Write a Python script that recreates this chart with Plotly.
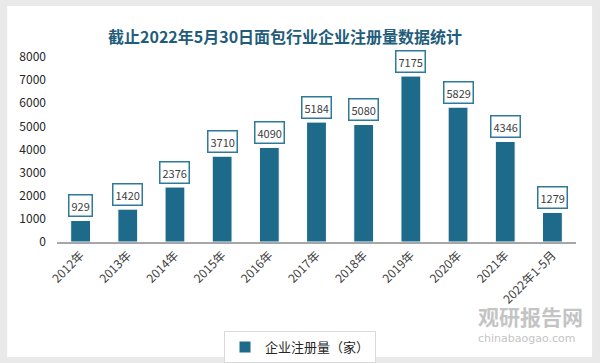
import plotly.graph_objects as go

categories = ["2012年", "2013年", "2014年", "2015年", "2016年", "2017年",
              "2018年", "2019年", "2020年", "2021年", "2022年1-5月"]
registrations = [929, 1420, 2376, 3710, 4090, 5184, 5080, 7175, 5829, 4346, 1279]
y_ticks = [0, 1000, 2000, 3000, 4000, 5000, 6000, 7000, 8000]

BAR = "#1d6a8a"
FONT = "Noto Sans CJK SC"

fig = go.Figure()
fig.add_trace(go.Bar(
    x=categories, y=registrations, name="企业注册量（家）",
    marker=dict(color=BAR, line=dict(color="#ffffff", width=1)),
    width=0.42,
))

for c, v in zip(categories, registrations):
    fig.add_annotation(
        x=c, y=v, text=str(v), showarrow=False, yshift=15,
        font=dict(family=FONT, size=11, color="#404040"),
        bgcolor="#ffffff", bordercolor="#2f7a9a", borderwidth=1.5, borderpad=2,
    )

# card background
fig.add_shape(type="rect", xref="paper", yref="paper",
              x0=-0.096, x1=1.031, y0=-0.622, y1=1.276,
              fillcolor="#ffffff", line=dict(width=0), layer="below")

fig.add_annotation(xref="paper", yref="paper", x=0.44, y=1.115,
                   text="<b>截止2022年5月30日面包行业企业注册量数据统计</b>",
                   showarrow=False, xanchor="center", yanchor="middle",
                   font=dict(family=FONT, size=16, color="#1f5d7a"))

# watermark
fig.add_annotation(xref="paper", yref="paper", x=0.913, y=-0.40,
                   text="<b>观研报告网</b>", showarrow=False,
                   xanchor="center", yanchor="middle",
                   font=dict(family=FONT, size=21, color="#c4c4c4"))
fig.add_annotation(xref="paper", yref="paper", x=0.905, y=-0.52,
                   text="chinabaogao.com", showarrow=False,
                   xanchor="center", yanchor="middle",
                   font=dict(family="DejaVu Sans", size=11, color="#c4c4c4"))

fig.update_layout(
    width=600, height=363,
    margin=dict(l=57, r=24, t=57, b=121, autoexpand=False),
    paper_bgcolor="#e9e9e9",
    plot_bgcolor="#eeeeee",
    showlegend=True,
    legend=dict(orientation="h", xref="container", yref="container",
                x=0.5, xanchor="center", y=0.088, yanchor="top",
                bgcolor="#ffffff", bordercolor="#d9d9d9", borderwidth=1,
                itemwidth=30,
                font=dict(family=FONT, size=13, color="#262626")),
    font=dict(family=FONT, color="#404040"),
    bargap=0.58,
)
fig.update_xaxes(tickangle=-45, tickfont=dict(family=FONT, size=12, color="#404040"),
                 showline=True, linecolor="#a6a6a6", linewidth=1.5, ticks="",
                 automargin=False)
fig.update_yaxes(range=[0, 8000], tickvals=y_ticks, showgrid=False, zeroline=False,
                 tickfont=dict(family=FONT, size=12, color="#262626"), ticks="",
                 ticklabelstandoff=10, automargin=False)

fig.write_html("out.html", config={"displayModeBar": False},
               post_script="document.body.style.margin='0';document.body.style.overflow='hidden';")
